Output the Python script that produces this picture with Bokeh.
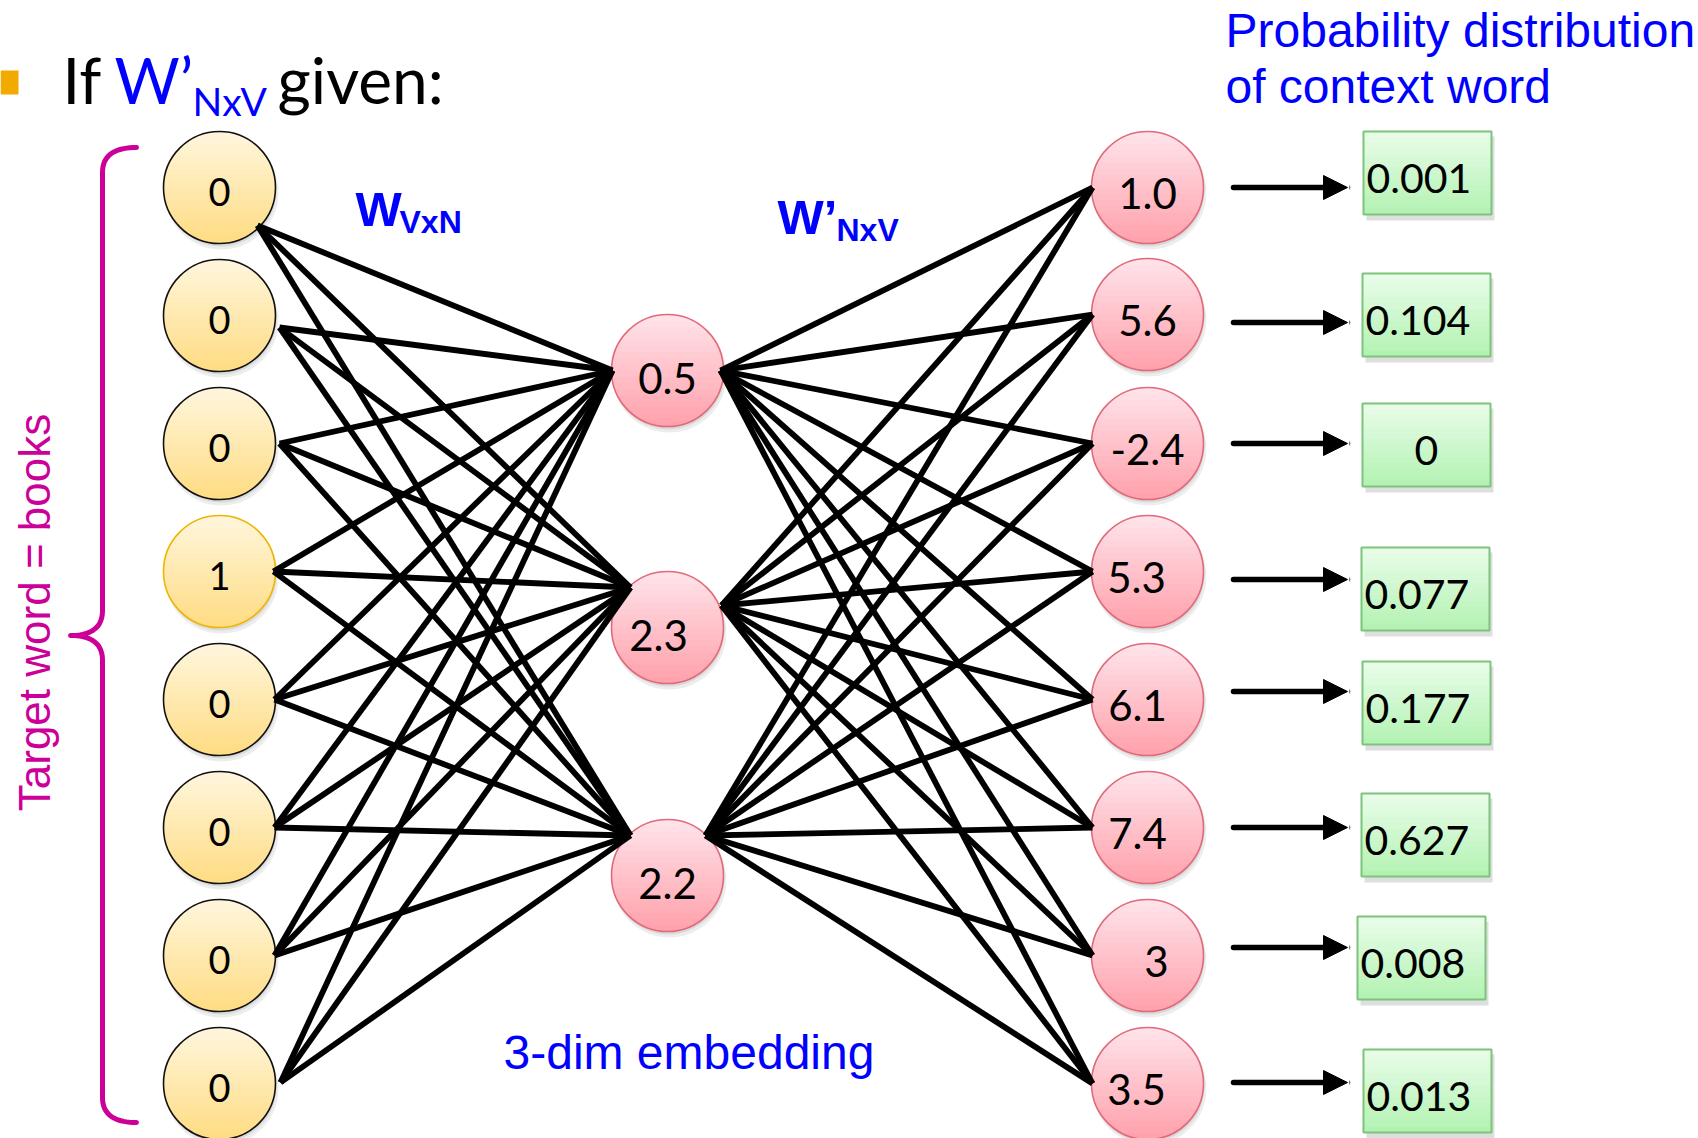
import numpy as np
from bokeh.plotting import figure
from bokeh.models import Range1d, ColumnDataSource, Arrow, NormalHead
from bokeh.core.properties import value
from bokeh.embed import file_html
from bokeh.resources import INLINE

# ---------------- data ----------------
input_values = ["0", "0", "0", "1", "0", "0", "0", "0"]
hidden_values = ["0.5", "2.3", "2.2"]
output_scores = ["1.0", "5.6", "-2.4", "5.3", "6.1", "7.4", "3", "3.5"]
probabilities = ["0.001", "0.104", "0", "0.077", "0.177", "0.627", "0.008", "0.013"]
active_index = 3

title_if = "If"
title_w = "W\u2019"
title_sub = "NxV"
title_given = "given:"
label_w1 = "W"
label_w1_sub = "VxN"
label_w2 = "W\u2019"
label_w2_sub = "NxV"
label_prob = ["Probability distribution", "of context word"]
label_embed = "3-dim embedding"
label_target = "Target word = books"

# ---------------- layout (pixels) ----------------
W, H = 1698, 1138
R = 56
in_x = 219
in_y = [187, 315, 443, 571, 699, 827, 955, 1083]
hid_x = 667
hid_y = [370, 627, 875]
out_x = 1147
out_y = [187, 314, 443, 571, 699, 827, 955, 1083]
in_port = [(38, 38), (60, 12), (60, 0), (54, 0), (55, 0), (55, 0), (55, 0), (61, -1)]
hid_in_port = [(-55, 0), (-37, -40), (-37, -40)]
hid_out_port = [(53, 0), (54, -22), (38, -40)]
out_port = (-55, 0)
out_label_dx = [0, 0, 0, -11, -10, -10, 9, -11]
hid_label_dx = [0, -9, 0]
box_left = [1363, 1362, 1362, 1361, 1362, 1361, 1357, 1363]
box_top = [131, 273, 403, 547, 661, 793, 916, 1049]
box_w, box_h = 128, 83
arrow_y = [187, 322, 443, 579, 691, 827, 947, 1082]
arrow_x0, arrow_x1 = 1233, 1347

BLUE = "#0000FF"
MAGENTA = "#CC0099"


def hex2rgb(h):
    h = h.lstrip("#")
    return np.array([int(h[i:i + 2], 16) for i in (0, 2, 4)], dtype=float)


def mix(a, b, t):
    c = hex2rgb(a) * (1 - t) + hex2rgb(b) * t
    return "#%02x%02x%02x" % tuple(int(round(v)) for v in c)


def circle_strips(cx, cy, r, top, bottom, n=18):
    xs_l, ys_l, cols = [], [], []
    for i in range(n):
        y0 = cy - r + 2 * r * i / n
        y1 = min(cy - r + 2 * r * (i + 1) / n + 0.9, cy + r)
        ys = np.linspace(y0, y1, 8)
        half = np.sqrt(np.clip(r * r - (ys - cy) ** 2, 0, None))
        xs_l.append(list(np.concatenate([cx - half, (cx + half)[::-1]])))
        ys_l.append(list(np.concatenate([ys, ys[::-1]])))
        cols.append(mix(top, bottom, (i + 0.5) / n))
    return xs_l, ys_l, cols


p = figure(width=W, height=H, x_range=Range1d(0, W), y_range=Range1d(H, 0),
           output_backend="svg", toolbar_location=None, min_border=0)
p.axis.visible = False
p.grid.visible = False
p.outline_line_color = None
p.background_fill_color = "white"
p.border_fill_color = "white"

# ---- shadows ----
all_cx = [in_x] * len(in_y) + [hid_x] * len(hid_y) + [out_x] * len(out_y)
all_cy = in_y + hid_y + out_y
p.circle([x + 2 for x in all_cx], [y + 5 for y in all_cy], radius=R + 1,
         fill_color="black", fill_alpha=0.07, line_color=None)
p.circle([x + 1 for x in all_cx], [y + 3 for y in all_cy], radius=R,
         fill_color="black", fill_alpha=0.08, line_color=None)
p.quad(left=[b + 3 for b in box_left], right=[b + box_w + 3 for b in box_left],
       top=[t + 5 for t in box_top], bottom=[t + box_h + 6 for t in box_top],
       fill_color="black", fill_alpha=0.13, line_color=None)

# ---- gradient fills ----
XS, YS, CS = [], [], []
for y in in_y:
    a, b, c = circle_strips(in_x, y, R, "#FFF6DE", "#FFDC82")
    XS += a; YS += b; CS += c
for y in hid_y:
    a, b, c = circle_strips(hid_x, y, R, "#FFE4EA", "#FFA0AB")
    XS += a; YS += b; CS += c
for y in out_y:
    a, b, c = circle_strips(out_x, y, R, "#FFE4EA", "#FFA0AB")
    XS += a; YS += b; CS += c
p.patches(XS, YS, fill_color=CS, line_color=None)

# box gradients
nb = 14
ql, qr, qt, qb, qc = [], [], [], [], []
for bl, bt in zip(box_left, box_top):
    for i in range(nb):
        ql.append(bl); qr.append(bl + box_w)
        qt.append(bt + box_h * i / nb)
        qb.append(min(bt + box_h * (i + 1) / nb + 0.8, bt + box_h))
        qc.append(mix("#EAFDEA", "#B2F2B2", (i + 0.5) / nb))
p.quad(left=ql, right=qr, top=qt, bottom=qb, fill_color=qc, line_color=None)
p.quad(left=box_left, right=[b + box_w for b in box_left], top=box_top,
       bottom=[t + box_h for t in box_top], fill_color=None, line_color="#7CC47C", line_width=2)

# outlines
in_line = ["#F0B400" if i == active_index else "#111111" for i in range(len(in_y))]
p.circle([in_x] * len(in_y), in_y, radius=R, fill_color=None, line_color=in_line, line_width=1.6)
p.circle([hid_x] * len(hid_y), hid_y, radius=R, fill_color=None, line_color="#E06A7A", line_width=1.6)
p.circle([out_x] * len(out_y), out_y, radius=R, fill_color=None, line_color="#E06A7A", line_width=1.6)

# ---- edges ----
exs, eys = [], []
for i, y in enumerate(in_y):
    for j, hy in enumerate(hid_y):
        exs.append([in_x + in_port[i][0], hid_x + hid_in_port[j][0]])
        eys.append([y + in_port[i][1], hy + hid_in_port[j][1]])
for j, hy in enumerate(hid_y):
    for k, oy in enumerate(out_y):
        exs.append([hid_x + hid_out_port[j][0], out_x + out_port[0]])
        eys.append([hy + hid_out_port[j][1], oy + out_port[1]])
p.multi_line(exs, eys, line_color="black", line_width=5.8)

# ---- node labels ----
NODE_FONT = value("Lato")
p.text([in_x] * len(in_y), [y + 4 for y in in_y], text=input_values, text_font=NODE_FONT,
       text_font_size="38px", text_align="center", text_baseline="middle", text_color="black")
p.text([hid_x + d for d in hid_label_dx], [y + 8 for y in hid_y], text=hidden_values, text_font=NODE_FONT,
       text_font_size="42px", text_align="center", text_baseline="middle", text_color="black")
p.text([out_x + d for d in out_label_dx], [y + 6 for y in out_y], text=output_scores, text_font=NODE_FONT,
       text_font_size="42px", text_align="center", text_baseline="middle", text_color="black")

# box labels
bx, bal = [], []
for bl, s in zip(box_left, probabilities):
    if len(s) == 1:
        bx.append(bl + box_w / 2); bal.append("center")
    else:
        bx.append(bl + 3); bal.append("left")
src_b = ColumnDataSource(dict(x=bx, y=[t + box_h / 2 + 5 for t in box_top], t=probabilities, a=bal))
p.text("x", "y", text="t", text_align="a", source=src_b, text_font=NODE_FONT,
       text_font_size="41px", text_baseline="middle", text_color="black")

# ---- arrows ----
src_a = ColumnDataSource(dict(x0=[arrow_x0] * len(arrow_y), x1=[arrow_x1] * len(arrow_y), y=arrow_y))
p.add_layout(Arrow(end=NormalHead(size=24, fill_color="black", line_color="black", line_width=1),
                   x_start="x0", y_start="y", x_end="x1", y_end="y", source=src_a,
                   line_width=5.5, line_color="black", line_cap="round"))

# ---- brace ----
def qbez(p0, c, p1, n=20):
    t = np.linspace(0, 1, n)[:, None]
    P = (1 - t) ** 2 * np.array(p0) + 2 * (1 - t) * t * np.array(c) + t ** 2 * np.array(p1)
    return P


bx0, bxt = 102, 136
pts = np.vstack([
    qbez((bxt, 147), (bx0, 147), (bx0, 172)),
    qbez((bx0, 610), (bx0, 635), (70, 635)),
    qbez((70, 635), (bx0, 635), (bx0, 660)),
    qbez((bx0, 1097), (bx0, 1122), (bxt, 1122)),
])
p.line(pts[:, 0], pts[:, 1], line_color=MAGENTA, line_width=5, line_cap="round", line_join="round")
p.text([34], [612], text=[label_target], angle=np.pi / 2, text_font=value("Liberation Sans"),
       text_font_size="44px", text_align="center", text_baseline="middle", text_color=MAGENTA)

# ---- header ----
p.quad(left=[0], right=[18], top=[70], bottom=[94], fill_color="#F2A900", line_color=None)
HF = value("Lato")
p.text([62], [79], text=[title_if], text_font=HF, text_font_size="63px", text_color="black",
       text_baseline="middle")
p.text([114], [79], text=[title_w], text_font=HF, text_font_size="63px", text_color=BLUE,
       text_baseline="middle")
p.text([192], [100], text=[title_sub], text_font=HF, text_font_size="39px", text_color=BLUE,
       text_baseline="middle")
p.text([277], [79], text=[title_given], text_font=HF, text_font_size="64px", text_color="black",
       text_baseline="middle")

AF = value("Liberation Sans")
p.text([355], [208], text=[label_w1], text_font=AF, text_font_size="49px", text_font_style="bold",
       text_color=BLUE, text_baseline="middle")
p.text([399], [221], text=[label_w1_sub], text_font=AF, text_font_size="32px", text_font_style="bold",
       text_color=BLUE, text_baseline="middle")
p.text([777], [216], text=[label_w2], text_font=AF, text_font_size="49px", text_font_style="bold",
       text_color=BLUE, text_baseline="middle")
p.text([836], [229], text=[label_w2_sub], text_font=AF, text_font_size="32px", text_font_style="bold",
       text_color=BLUE, text_baseline="middle")

p.text([1225, 1225], [30, 86], text=label_prob, text_font=AF, text_font_size="48px",
       text_color=BLUE, text_baseline="middle")
p.text([503], [1052], text=[label_embed], text_font=AF, text_font_size="48px",
       text_color=BLUE, text_baseline="middle")

open("out.html", "w").write(file_html(p, INLINE))
